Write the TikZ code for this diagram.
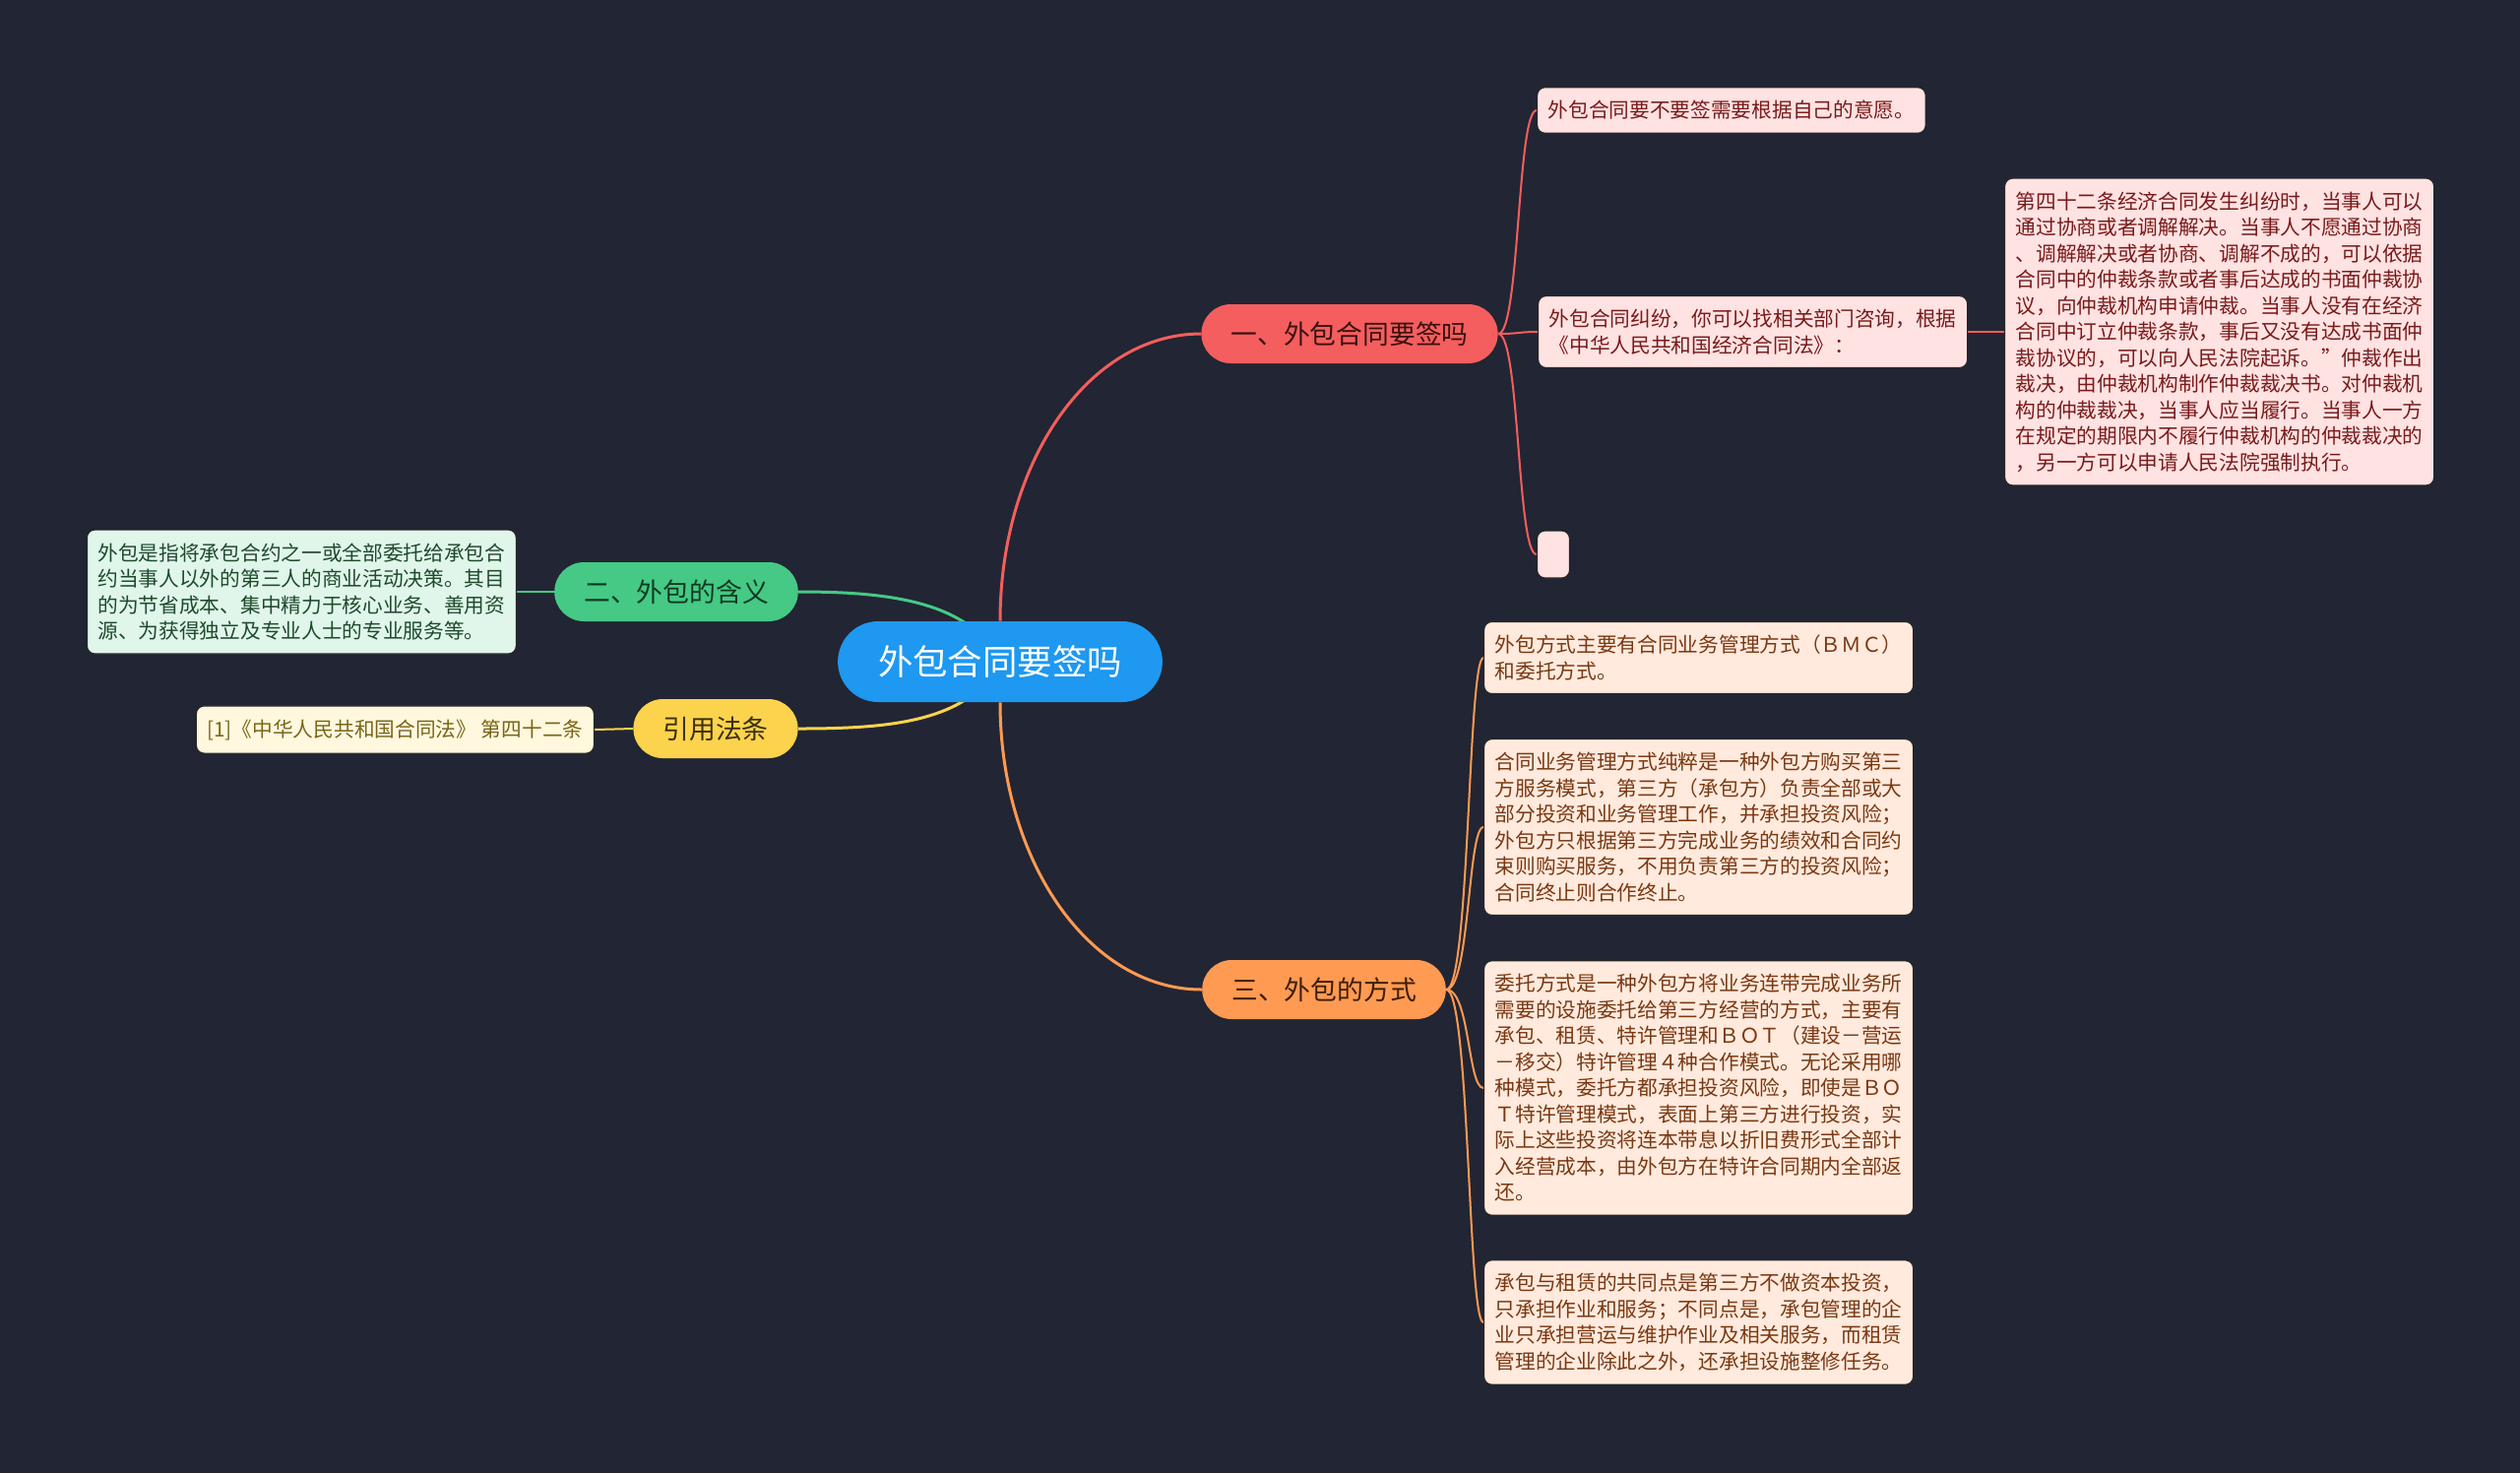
\documentclass[tikz,border=0pt]{standalone}
\usepackage{fontspec}
\setmainfont{Noto Sans CJK SC}
\usetikzlibrary{backgrounds}

\definecolor{bgdark}{HTML}{222533}
\definecolor{rootblue}{HTML}{1E98F0}
\definecolor{redmain}{HTML}{F45E5E}
\definecolor{redfill}{HTML}{FFE2E2}
\definecolor{redtext}{HTML}{7A1A1A}
\definecolor{redhead}{HTML}{3A1010}
\definecolor{greenmain}{HTML}{45C985}
\definecolor{greenfill}{HTML}{E0F6EA}
\definecolor{greentext}{HTML}{1E4A2C}
\definecolor{greenhead}{HTML}{0F3A22}
\definecolor{yellowmain}{HTML}{FCD34D}
\definecolor{yellowfill}{HTML}{FFF8DE}
\definecolor{yellowtext}{HTML}{7A6518}
\definecolor{yellowhead}{HTML}{3A300A}
\definecolor{orangemain}{HTML}{FF9A52}
\definecolor{orangefill}{HTML}{FFEADD}
\definecolor{orangetext}{HTML}{7A3812}
\definecolor{orangehead}{HTML}{3D1E08}

\begin{document}
\begin{tikzpicture}[
    x=0.5pt, y=-0.5pt,
    every node/.style={align=left},
    topic/.style={fill=rootblue, text=white, rounded corners=20.5pt,
        minimum height=41pt, inner xsep=20.5pt,
        font=\fontsize{17.7}{20}\selectfont},
    branch/.style={rounded corners=15pt, minimum height=30pt, inner xsep=15pt,
        font=\fontsize{13.4}{16}\selectfont},
    leaf/.style={rounded corners=4pt, draw=black!85, line width=0.6pt,
        inner xsep=5.5pt, inner ysep=6.8pt,
        font=\fontsize{10.35}{13.25}\selectfont},
    red branch/.style={branch, fill=redmain, text=redhead},
    green branch/.style={branch, fill=greenmain, text=greenhead},
    yellow branch/.style={branch, fill=yellowmain, text=yellowhead},
    orange branch/.style={branch, fill=orangemain, text=orangehead},
    red leaf/.style={leaf, fill=redfill, text=redtext},
    green leaf/.style={leaf, fill=greenfill, text=greentext},
    yellow leaf/.style={leaf, fill=yellowfill, text=yellowtext},
    orange leaf/.style={leaf, fill=orangefill, text=orangetext},
    link/.style={line width=1.5pt},
    twig/.style={line width=1pt}
]

\useasboundingbox (0,0) rectangle (2560,1496);

% Root and main branches
\node[topic] (root) at (1016,672) {外包合同要签吗};
\node[red branch] (sign_q) at (1371,339) {一、外包合同要签吗};
\node[green branch] (meaning) at (687,601) {二、外包的含义};
\node[yellow branch] (cite) at (727,740) {引用法条};
\node[orange branch] (way) at (1345,1005) {三、外包的方式};

% Branch one
\node[red leaf, anchor=west] (sign_will) at (1561,112) {外包合同要不要签需要根据自己的意愿。};
\node[red leaf, anchor=west] (dispute) at (1562,337)
    {外包合同纠纷，你可以找相关部门咨询，根据\\《中华人民共和国经济合同法》：};
\node[red leaf, minimum width=16.5pt, minimum height=24pt, inner sep=0pt] (blank) at (1578,563) {};
\node[red leaf, anchor=west] (article) at (2036,337)
    {第四十二条经济合同发生纠纷时，当事人可以\\
     通过协商或者调解解决。当事人不愿通过协商\\
     、调解解决或者协商、调解不成的，可以依据\\
     合同中的仲裁条款或者事后达成的书面仲裁协\\
     议，向仲裁机构申请仲裁。当事人没有在经济\\
     合同中订立仲裁条款，事后又没有达成书面仲\\
     裁协议的，可以向人民法院起诉。”仲裁作出\\
     裁决，由仲裁机构制作仲裁裁决书。对仲裁机\\
     构的仲裁裁决，当事人应当履行。当事人一方\\
     在规定的期限内不履行仲裁机构的仲裁裁决的\\
     ，另一方可以申请人民法院强制执行。};

% Branch two
\node[green leaf, anchor=east] (define) at (525,601)
    {外包是指将承包合约之一或全部委托给承包合\\
     约当事人以外的第三人的商业活动决策。其目\\
     的为节省成本、集中精力于核心业务、善用资\\
     源、为获得独立及专业人士的专业服务等。};

% Cited law
\node[yellow leaf, anchor=east] (law_ref) at (604,741) {[1]《中华人民共和国合同法》 第四十二条};

% Branch three
\node[orange leaf, anchor=west] (modes) at (1507,668)
    {外包方式主要有合同业务管理方式（ＢＭＣ）\\和委托方式。};
\node[orange leaf, anchor=west] (bmc) at (1507,840)
    {合同业务管理方式纯粹是一种外包方购买第三\\
     方服务模式，第三方（承包方）负责全部或大\\
     部分投资和业务管理工作，并承担投资风险；\\
     外包方只根据第三方完成业务的绩效和合同约\\
     束则购买服务，不用负责第三方的投资风险；\\
     合同终止则合作终止。};
\node[orange leaf, anchor=west] (entrust) at (1507,1105)
    {委托方式是一种外包方将业务连带完成业务所\\
     需要的设施委托给第三方经营的方式，主要有\\
     承包、租赁、特许管理和ＢＯＴ（建设－营运\\
     －移交）特许管理４种合作模式。无论采用哪\\
     种模式，委托方都承担投资风险，即使是ＢＯ\\
     Ｔ特许管理模式，表面上第三方进行投资，实\\
     际上这些投资将连本带息以折旧费形式全部计\\
     入经营成本，由外包方在特许合同期内全部返\\
     还。};
\node[orange leaf, anchor=west] (lease) at (1507,1343)
    {承包与租赁的共同点是第三方不做资本投资，\\
     只承担作业和服务；不同点是，承包管理的企\\
     业只承担营运与维护作业及相关服务，而租赁\\
     管理的企业除此之外，还承担设施整修任务。};

\begin{pgfonlayer}{background}
\fill[bgdark] (0,0) rectangle (2560,1496);

% Root links
\draw[link, draw=redmain] (root.north) .. controls +(0,-160) and +(-115,0) .. (sign_q.west);
\draw[link, draw=orangemain] (root.south) .. controls +(0,160) and +(-115,0) .. (way.west);
\draw[link, draw=greenmain] (meaning.east) .. controls +(90,0) and +(-31,-62) .. (root.center);
\draw[link, draw=yellowmain] (cite.east) .. controls +(90,0) and +(-31,62) .. (root.center);

% Leaf links
\foreach \leaf in {sign_will, dispute, blank}
    \draw[twig, draw=redmain] (sign_q.east) .. controls +(22,0) and +(-20,0) .. (\leaf.west);
\draw[twig, draw=redmain] (dispute.east) -- (article.west);
\draw[twig, draw=greenmain] (meaning.west) -- (define.east);
\draw[twig, draw=yellowmain] (cite.west) -- (law_ref.east);
\foreach \leaf in {modes, bmc, entrust, lease}
    \draw[twig, draw=orangemain] (way.east) .. controls +(24,0) and +(-16,0) .. (\leaf.west);
\end{pgfonlayer}

\end{tikzpicture}
\end{document}
